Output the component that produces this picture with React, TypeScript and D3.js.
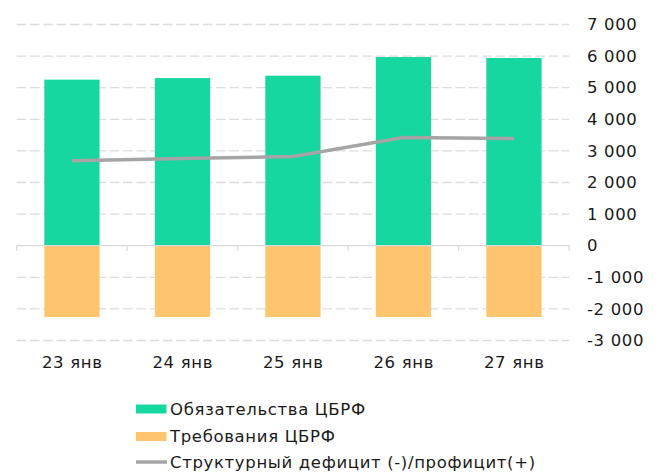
import React from "react";
import * as d3 from "d3";

const categories = ["23 янв", "24 янв", "25 янв", "26 янв", "27 янв"];
const obligations = [5255, 5305, 5380, 5970, 5940];
const claims = [-2255, -2255, -2255, -2255, -2255];
const structural = [2690, 2760, 2820, 3425, 3390];
const yTicks = [7000, 6000, 5000, 4000, 3000, 2000, 1000, 0, -1000, -2000, -3000];
const legendItems = ["Обязательства ЦБРФ", "Требования ЦБРФ", "Структурный дефицит (-)/профицит(+)"];

const W = 657;
const H = 473;
const GREEN = "#17D7A0";
const ORANGE = "#FEC46E";
const GRAY = "#A5A5A5";
const FONT = "'DejaVu Sans', Verdana, sans-serif";
const FS = 16.5;
const LS = 0.65;

const fmt = (v: number) => {
  const s = Math.abs(v).toString().replace(/\B(?=(\d{3})+(?!\d))/g, " ");
  return (v < 0 ? "-" : "") + s;
};

export default function App() {
  const x = d3.scaleBand<string>().domain(categories).range([16.7, 569.2]).paddingInner(0.5).paddingOuter(0.25);
  const y = d3.scaleLinear().domain([-3000, 7000]).range([340.5, 24.5]);
  const step = x.step();
  const left = 16.7;
  const right = 569.2;
  const line = d3
    .line<number>()
    .x((_, i) => (x(categories[i]) as number) + x.bandwidth() / 2)
    .y((d) => y(d));

  return (
    <svg width={W} height={H} style={{ position: "absolute", left: 0, top: 0, background: "#fff" }} fontFamily={FONT}>
      {yTicks.filter((t) => t !== 0).map((t) => (
        <line key={t} x1={left} x2={right} y1={y(t)} y2={y(t)} stroke="#DCDCDC" strokeWidth={1.3} strokeDasharray="9.5 3.8" />
      ))}
      {categories.map((c, i) => (
        <rect key={"o" + c} x={x(c)} width={x.bandwidth()} y={y(obligations[i])} height={y(0) - y(obligations[i])} fill={GREEN} />
      ))}
      {categories.map((c, i) => (
        <rect key={"c" + c} x={x(c)} width={x.bandwidth()} y={y(0)} height={y(claims[i]) - y(0)} fill={ORANGE} />
      ))}
      <line x1={left} x2={right} y1={y(0)} y2={y(0)} stroke="#D9D9D9" strokeWidth={1.3} />
      {d3.range(categories.length + 1).map((i) => (
        <line key={"t" + i} x1={left + i * step} x2={left + i * step} y1={y(0)} y2={y(0) + 5} stroke="#D9D9D9" strokeWidth={1.3} />
      ))}
      <path d={line(structural) || ""} fill="none" stroke={GRAY} strokeWidth={3.5} />
      {yTicks.map((t) => (
        <text key={"l" + t} x={587} y={y(t)} dy="0.35em" fontSize={FS} letterSpacing={LS} fill="#1a1a1a">
          {fmt(t)}
        </text>
      ))}
      {categories.map((c) => (
        <text key={"x" + c} x={(x(c) as number) + x.bandwidth() / 2 + LS / 2} y={362} dy="0.35em" textAnchor="middle" fontSize={FS} letterSpacing={LS} fill="#1a1a1a">
          {c}
        </text>
      ))}
      {legendItems.map((name, i) => {
        const cy = [409, 436.5, 462][i];
        return (
          <g key={name}>
            {i < 2 ? (
              <rect x={136} y={cy - 4.5} width={30.5} height={9} fill={i === 0 ? GREEN : ORANGE} />
            ) : (
              <line x1={136} x2={167} y1={cy} y2={cy} stroke={GRAY} strokeWidth={3.5} />
            )}
            <text x={170} y={cy} dy="0.35em" fontSize={FS} letterSpacing={LS} fill="#1a1a1a">
              {name}
            </text>
          </g>
        );
      })}
    </svg>
  );
}
